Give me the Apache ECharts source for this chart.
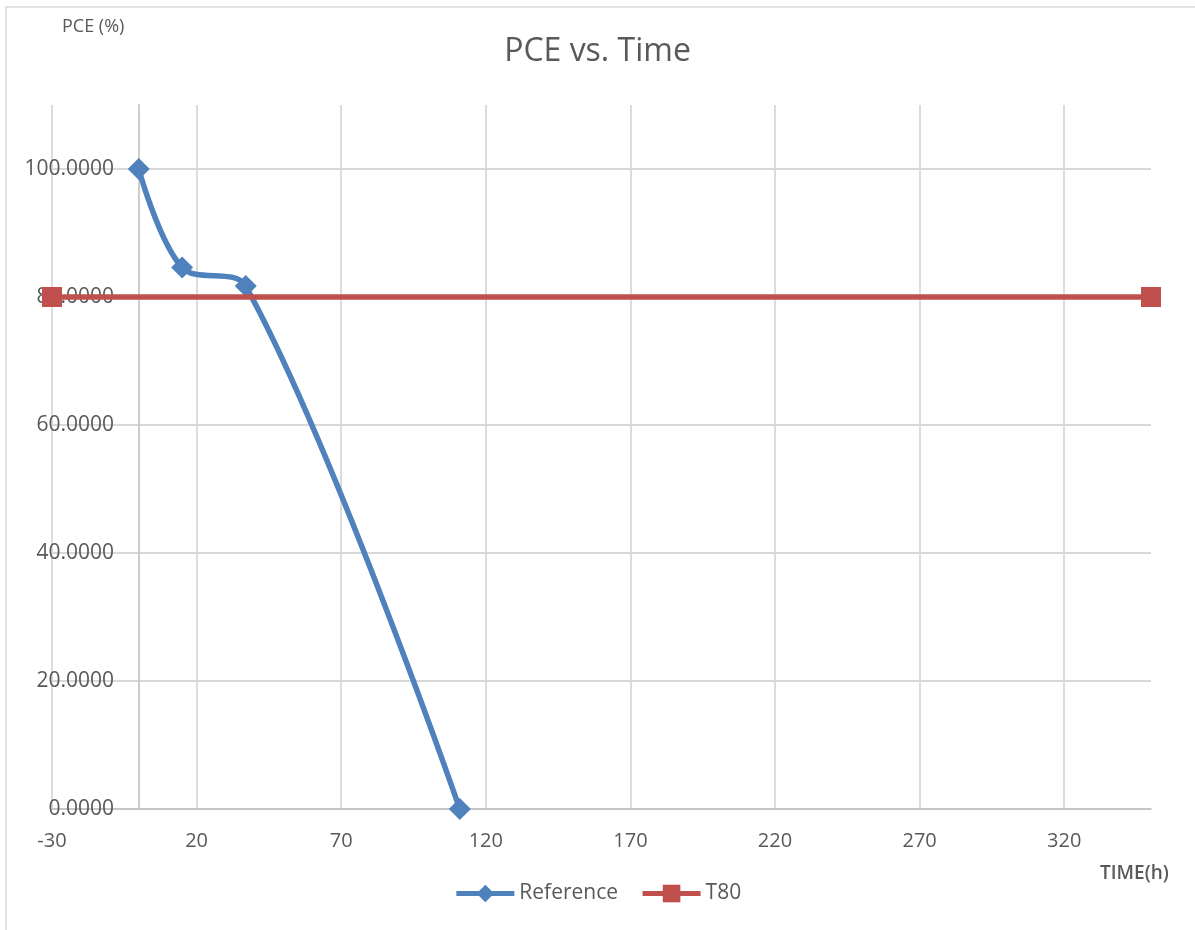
<!DOCTYPE html>
<html>
<head>
<meta charset="utf-8">
<script src="https://cdn.jsdelivr.net/npm/echarts@6/dist/echarts.min.js"></script>
<style>html,body{margin:0;padding:0;background:#fff;}#c{width:1195px;height:930px;}</style>
</head>
<body>
<div id="c"></div>
<script>
const referenceX = [0, 15, 37, 111];
const referenceY = [100, 84.6, 81.7, 0];
const t80X = [-30, 350];
const t80Y = [80, 80];
const seriesNames = ['Reference', 'T80'];
const titleText = 'PCE vs. Time';
const yName = 'PCE (%)';
const xName = 'TIME(h)';

const font = '"Open Sans", "Liberation Sans", sans-serif';
const textColor = '#595959';
const gridColor = '#d9d9d9';

const chart = echarts.init(document.getElementById('c'));
chart.setOption({
  animation: false,
  backgroundColor: '#fff',
  title: {
    text: titleText, left: 'center', top: 31,
    textStyle: {fontFamily: font, fontSize: 32, fontWeight: 'normal', color: textColor}
  },
  graphic: [
    {type: 'rect', shape: {x: 6, y: 7, width: 1300, height: 1000}, style: {fill: 'none', stroke: '#d9d9d9', lineWidth: 1.5}, silent: true},
    {type: 'text', left: 62, top: 18, style: {text: yName, font: '18px ' + font, fill: textColor}},
    {type: 'text', left: 1100, top: 864, style: {text: xName, font: '600 19px "Liberation Sans Narrow", ' + font, fill: textColor}}
  ],
  legend: {
    bottom: 21, left: 'center',
    itemWidth: 58, itemHeight: 22, itemGap: 22,
    textStyle: {fontFamily: font, fontSize: 21, color: textColor},
    lineStyle: {width: 5},
    data: seriesNames
  },
  grid: {left: 52, right: 44, top: 105, bottom: 121, containLabel: false, outerBoundsMode: 'none'},
  xAxis: {
    type: 'value', min: -30, max: 350, interval: 50,
    axisLine: {show: true, lineStyle: {color: '#bfbfbf', width: 1.5}},
    axisTick: {show: false},
    axisLabel: {showMaxLabel: false, margin: 22, fontFamily: font, fontSize: 20, color: textColor},
    splitLine: {show: true, showMaxLine: false, lineStyle: {color: gridColor, width: 1.8}}
  },
  yAxis: {
    type: 'value', min: 0, max: 110, interval: 20,
    axisLine: {show: true, onZero: true, lineStyle: {color: '#c8c8c8', width: 1.8}},
    axisTick: {show: false},
    axisLabel: {showMaxLabel: false, margin: -62, fontFamily: font, fontSize: 21, color: textColor,
      formatter: v => v.toFixed(4)},
    splitLine: {show: true, showMaxLine: false, lineStyle: {color: gridColor, width: 1.8}}
  },
  series: [
    {
      name: seriesNames[0], type: 'line', smooth: 0.35,
      data: referenceX.map((x, i) => [x, referenceY[i]]),
      symbol: 'diamond', symbolSize: 22,
      itemStyle: {color: '#4F81BD'},
      lineStyle: {color: '#4F81BD', width: 5.5},
      z: 3
    },
    {
      name: seriesNames[1], type: 'line',
      data: t80X.map((x, i) => [x, t80Y[i]]),
      symbol: 'rect', symbolSize: 20,
      itemStyle: {color: '#C0504D'},
      lineStyle: {color: '#C0504D', width: 5.5},
      z: 4
    }
  ]
});
</script>
</body>
</html>
